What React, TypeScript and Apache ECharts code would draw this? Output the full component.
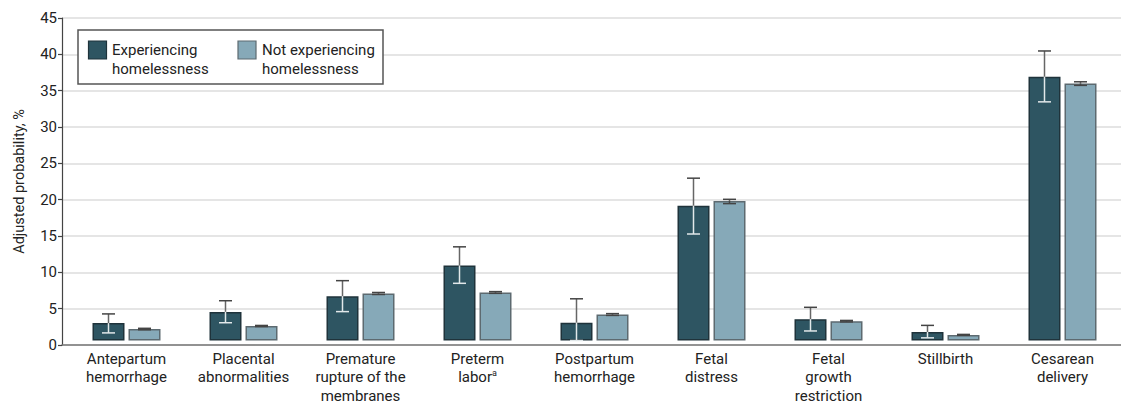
import React, { useEffect, useRef } from "react";
import * as echarts from "echarts";

const categories = [
  "Antepartum\nhemorrhage",
  "Placental\nabnormalities",
  "Premature\nrupture of the\nmembranes",
  "Preterm\nlabor{sup|a}",
  "Postpartum\nhemorrhage",
  "Fetal\ndistress",
  "Fetal\ngrowth\nrestriction",
  "Stillbirth",
  "Cesarean\ndelivery",
];
const seriesNames = ["Experiencing homelessness", "Not experiencing homelessness"];
const legendLabels = ["Experiencing\nhomelessness", "Not experiencing\nhomelessness"];
const homeless = [2.43, 3.99, 6.19, 10.45, 2.48, 18.8, 2.98, 1.19, 36.8];
const homelessLo = [1.06, 2.48, 4.03, 7.98, 0.0, 14.86, 1.33, 0.37, 33.3];
const homelessHi = [3.71, 5.55, 8.35, 13.07, 5.82, 22.65, 4.63, 2.11, 40.4];
const notHomeless = [1.6, 2.03, 6.56, 6.7, 3.62, 19.45, 2.7, 0.78, 35.86];
const notHomelessLo = [1.5, 1.95, 6.42, 6.58, 3.5, 19.1, 2.6, 0.72, 35.6];
const notHomelessHi = [1.7, 2.1, 6.7, 6.82, 3.75, 19.7, 2.8, 0.85, 36.1];
const yTicks = [0, 5, 10, 15, 20, 25, 30, 35, 40, 45];

const DARK = "#2e5562";
const LIGHT = "#86a9b8";
const FONT = "Roboto";

function errorSeries(name: string, vals: number[], lo: number[], hi: number[], side: number, lowerColor: string) {
  return {
    type: "custom",
    name: name + " CI",
    xAxisIndex: 0,
    yAxisIndex: 0,
    z: 5,
    silent: true,
    data: vals.map((v, i) => [i, v, lo[i], hi[i]]),
    renderItem: (params: any, api: any) => {
      const i = api.value(0);
      const top = api.coord([i, api.value(1)]);
      const low = api.coord([i, api.value(2)]);
      const high = api.coord([i, api.value(3)]);
      const x = top[0] + side * 18;
      const half = 6.5;
      return {
        type: "group",
        children: [
          { type: "line", shape: { x1: x, y1: top[1], x2: x, y2: high[1] }, style: { stroke: "#666", lineWidth: 1.5 } },
          { type: "line", shape: { x1: x - half, y1: high[1], x2: x + half, y2: high[1] }, style: { stroke: "#444", lineWidth: 1.5 } },
          { type: "line", shape: { x1: x, y1: top[1], x2: x, y2: low[1] }, style: { stroke: lowerColor, lineWidth: 1.5 } },
          { type: "line", shape: { x1: x - half, y1: low[1], x2: x + half, y2: low[1] }, style: { stroke: lowerColor, lineWidth: 1.5 } },
        ],
      };
    },
  };
}

export default function App() {
  const ref = useRef<HTMLDivElement>(null);
  useEffect(() => {
    if (!ref.current) return;
    const chart = echarts.init(ref.current, null, { renderer: "svg" });
    const option: any = {
      animation: false,
      textStyle: { fontFamily: FONT },
      grid: [
        { left: 68, right: 0, top: 18, bottom: 60 },
        { left: 62, right: 0, top: 18, bottom: 60 },
      ],
      xAxis: [
        {
          type: "category",
          gridIndex: 0,
          data: categories,
          axisLine: { show: false },
          axisTick: { show: false },
          axisLabel: {
            interval: 0,
            fontSize: 15,
            lineHeight: 18.5,
            color: "#222",
            margin: 9,
            fontFamily: FONT,
            rich: { sup: { fontSize: 9, verticalAlign: "top", lineHeight: 14, padding: [0, 0, 6, 0] } },
          },
        },
        {
          type: "value",
          gridIndex: 1,
          min: 0,
          max: 1,
          axisLine: { show: true, onZero: false, lineStyle: { color: "#777", width: 1.5 } },
          axisTick: { show: false },
          axisLabel: { show: false },
          splitLine: { show: false },
        },
      ],
      yAxis: [
        {
          type: "value",
          gridIndex: 0,
          min: 0,
          max: 45,
          interval: 5,
          show: false,
        },
        {
          type: "value",
          gridIndex: 1,
          min: 0,
          max: 45,
          interval: 5,
          name: "Adjusted probability, %",
          nameLocation: "middle",
          nameRotate: 90,
          nameGap: 35,
          nameTextStyle: { fontSize: 14.5, color: "#222", fontFamily: FONT },
          axisLine: { show: true, lineStyle: { color: "#444", width: 1.2 } },
          axisTick: { show: true, length: 4, lineStyle: { color: "#444", width: 1.2 } },
          axisLabel: {
            fontSize: 15,
            color: "#222",
            margin: 5,
            fontFamily: FONT,
            formatter: (v: number) => (yTicks.includes(v) ? String(v) : ""),
          },
          splitLine: { show: true, lineStyle: { color: "#dcdcdc", width: 1.5 } },
        },
      ],
      series: [
        {
          type: "bar",
          name: seriesNames[0],
          xAxisIndex: 0,
          yAxisIndex: 0,
          data: homeless,
          barWidth: 32,
          barGap: "12.5%",
          itemStyle: { color: DARK, borderColor: "#1f333b", borderWidth: 1.5 },
        },
        {
          type: "bar",
          name: seriesNames[1],
          xAxisIndex: 0,
          yAxisIndex: 0,
          data: notHomeless,
          barWidth: 32,
          barGap: "12.5%",
          itemStyle: { color: LIGHT, borderColor: "#5d6a70", borderWidth: 1.5 },
        },
        errorSeries(seriesNames[0], homeless, homelessLo, homelessHi, -1, "#e2e8ea"),
        errorSeries(seriesNames[1], notHomeless, notHomelessLo, notHomelessHi, 1, "#444"),
      ],
      graphic: [
        {
          type: "rect",
          z: 100,
          shape: { x: 78, y: 30, width: 305, height: 54 },
          style: { fill: "#fff", stroke: "#555", lineWidth: 1.5 },
        },
        {
          type: "rect",
          z: 101,
          shape: { x: 88.5, y: 41, width: 18, height: 18 },
          style: { fill: DARK, stroke: "#1f333b", lineWidth: 1.2 },
        },
        {
          type: "text",
          z: 101,
          x: 112,
          y: 40.5,
          style: { text: legendLabels[0], fontSize: 15, lineHeight: 19, fill: "#222", fontFamily: FONT, verticalAlign: "top" },
        },
        {
          type: "rect",
          z: 101,
          shape: { x: 238, y: 41, width: 18, height: 18 },
          style: { fill: LIGHT, stroke: "#5d6a70", lineWidth: 1.2 },
        },
        {
          type: "text",
          z: 101,
          x: 262,
          y: 40.5,
          style: { text: legendLabels[1], fontSize: 15, lineHeight: 19, fill: "#222", fontFamily: FONT, verticalAlign: "top" },
        },
      ],
    };
    chart.setOption(option);
    return () => chart.dispose();
  }, []);
  return <div ref={ref} style={{ width: 1121, height: 405, position: "absolute", left: 0, top: 0 }} />;
}
